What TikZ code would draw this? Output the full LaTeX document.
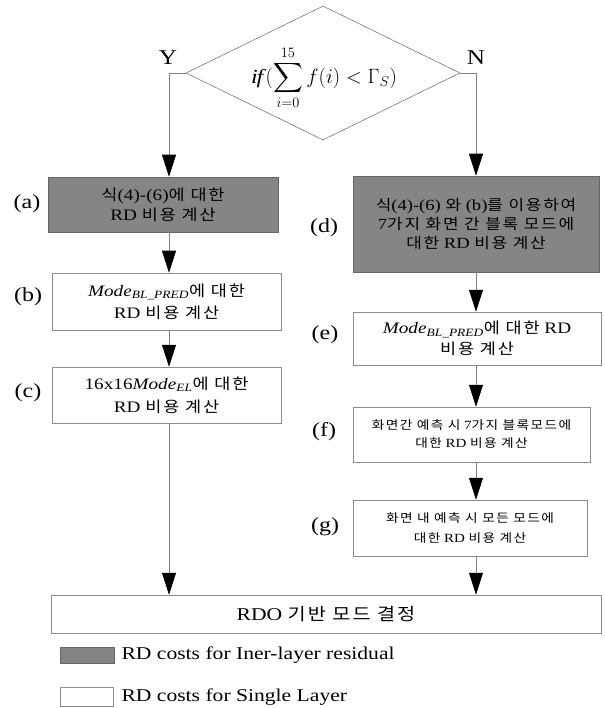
\documentclass[tikz,border=0pt]{standalone}
\usepackage{exscale}
\usepackage{fontspec}
\setmainfont[FakeStretch=1.2]{Liberation Serif}
\newfontfamily\kr[Scale=0.95, FakeStretch=1.15, LetterSpace=12]{Noto Sans CJK KR}
\usetikzlibrary{shapes.geometric,arrows.meta}
\newcommand\K[1]{{\kr #1}}
\tikzset{
  boxbase/.style={rectangle, line width=0.5pt, align=center, inner sep=0pt, font=\fontsize{16}{20}\selectfont},
  graybox/.style={boxbase, draw=black!60, fill=black!48},
  whitebox/.style={boxbase, draw=black!45, fill=white},
  steplabel/.style={font=\fontsize{20}{22}\selectfont},
  arr/.style={draw=black!50, line width=0.6pt, -{Triangle[length=22pt,width=14pt,black]}},
  conn/.style={draw=black!50, line width=0.6pt},
}
\begin{document}
\begin{tikzpicture}[x=1pt,y=-1pt]
\useasboundingbox (0,0) rectangle (604,708);
% decision
\node[diamond, draw=black!60, line width=0.5pt, minimum width=274pt, minimum height=134pt, inner sep=0pt] (dia) at (323,73) {};
\node (cond) at (324,78) {\fontsize{20}{24}\selectfont $\displaystyle \mathit{if}\,(\sum_{i=0}^{15} f(i) < \Gamma_S)$};
\node[font=\fontsize{21}{24}\selectfont] (Y) at (168,58) {Y};
\node[font=\fontsize{21}{24}\selectfont] (N) at (476,58) {N};
\coordinate (ly) at (169,73);
\coordinate (ry) at (476,73);
% left column
\node[graybox, minimum width=230pt, minimum height=55pt] (a) at (163,204.5) {\K{식}(4)-(6)\K{에 대한}\\RD \K{비용 계산}};
\node[whitebox, minimum width=229pt, minimum height=57pt, font=\fontsize{16}{22}\selectfont] (b) at (166.5,301.5) {\textit{Mode}\textsubscript{\textit{BL\_PRED}}\K{에 대한}\\RD \K{비용 계산}};
\node[whitebox, minimum width=229pt, minimum height=56pt, font=\fontsize{16}{23}\selectfont] (c) at (166.5,395) {16x16\textit{Mode}\textsubscript{\textit{EL}}\K{에 대한}\\RD \K{비용 계산}};
% right column
\node[graybox, minimum width=246pt, minimum height=96pt, font=\fontsize{15.5}{19}\selectfont] (d) at (476,224) {\K{식}(4)-(6) \K{와} (b)\K{를 이용하여}\\7\K{가지 화면 간 블록 모드에}\\\K{대한} RD \K{비용 계산}};
\node[whitebox, minimum width=248pt, minimum height=53pt, font=\fontsize{16}{21}\selectfont] (e) at (477,338.5) {\textit{Mode}\textsubscript{\textit{BL\_PRED}}\K{에 대한} RD\\\K{비용 계산}};
\node[whitebox, minimum width=237pt, minimum height=55pt, font=\fontsize{12.5}{18}\selectfont] (f) at (471.5,434.5) {\K{화면간 예측 시} 7\K{가지 블록모드에}\\\K{대한} RD \K{비용 계산}};
\node[whitebox, minimum width=234pt, minimum height=56pt, font=\fontsize{12.5}{20}\selectfont] (g) at (470,528) {\K{화면 내 예측 시 모든 모드에}\\\K{대한} RD \K{비용 계산}};
% final
\node[whitebox, minimum width=550pt, minimum height=38pt, font=\fontsize{18}{20}\selectfont] (fin) at (326,614) {RDO \K{기반 모드 결정}};
% step labels
\node[steplabel] (la) at (27,204) {(a)};
\node[steplabel] (lb) at (28,297) {(b)};
\node[steplabel] (lc) at (28,393) {(c)};
\node[steplabel] (ld) at (324,228) {(d)};
\node[steplabel] (le) at (325,335) {(e)};
\node[steplabel] (lf) at (324,432) {(f)};
\node[steplabel] (lg) at (325,527) {(g)};
% connectors
\draw[conn] (dia.west) -- (ly);
\draw[arr] (ly) -- (ly |- a.north);
\draw[arr] (a.south -| ly) -- (b.north -| ly);
\draw[arr] (b.south -| ly) -- (c.north -| ly);
\draw[arr] (c.south -| ly) -- (fin.north -| ly);
\draw[conn] (dia.east) -- (ry);
\draw[arr] (ry) -- (ry |- d.north);
\draw[arr] (d.south -| ry) -- (e.north -| ry);
\draw[arr] (e.south -| ry) -- (f.north -| ry);
\draw[arr] (f.south -| ry) -- (g.north -| ry);
\draw[arr] (g.south -| ry) -- (fin.north -| ry);
% legend
\node[graybox, minimum width=54pt, minimum height=16pt] (lg1) at (87,655.5) {};
\node[anchor=west, font=\fontsize{18}{20}\selectfont] (lt1) at (118,655.5) {RD costs for Iner-layer residual};
\node[whitebox, minimum width=53pt, minimum height=19pt] (lg2) at (87,697) {};
\node[anchor=west, font=\fontsize{18}{20}\selectfont] (lt2) at (118,697) {RD costs for Single Layer};
\end{tikzpicture}
\end{document}
